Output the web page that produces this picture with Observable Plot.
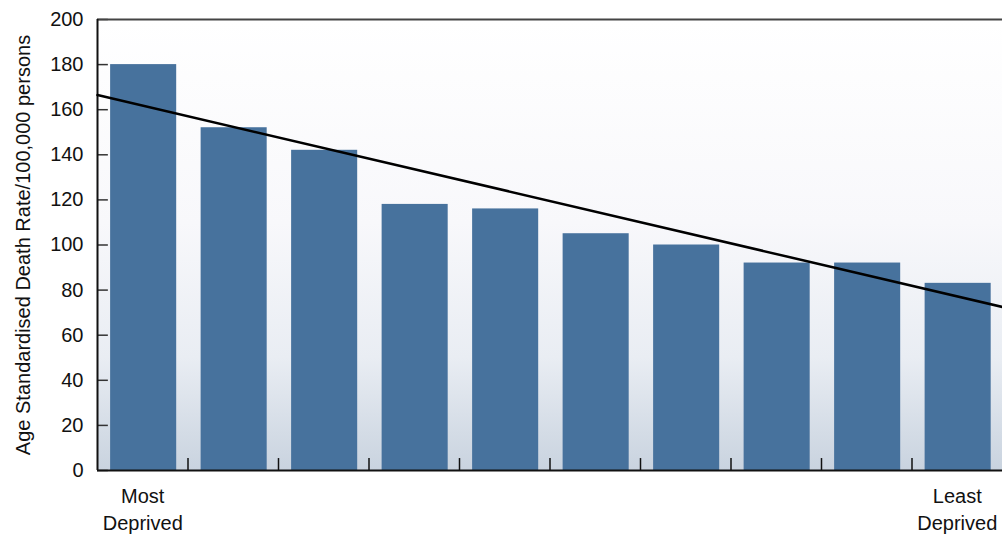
<!DOCTYPE html>
<html>
<head>
<meta charset="utf-8">
<script src="https://cdn.jsdelivr.net/npm/d3@7"></script>
<script src="https://cdn.jsdelivr.net/npm/@observablehq/plot@0.6"></script>
<style>
  html, body { margin: 0; padding: 0; background: #ffffff; }
  #chart svg { display: block; }
</style>
</head>
<body>
<div id="chart"></div>
<script>
// Deprivation deciles, most deprived to least deprived
const categories = ["Most\nDeprived", "", "", "", "", "", "", "", "", "Least\nDeprived"];
const rates = [180, 152, 142, 118, 116, 105, 100, 92, 92, 83];
// Trend line values at left and right edges of the category range
const trendEnds = [166.5, 72.5];
const yTicks = [0, 20, 40, 60, 80, 100, 120, 140, 160, 180, 200];

const n = categories.length;
const bars = rates.map((v, i) => ({i, v, label: categories[i]}));
const trend = [{x: 0, y: trendEnds[0]}, {x: n, y: trendEnds[1]}];
const boundaries = d3.range(1, n);
const pad = 0.135;

const font = "'Liberation Sans', Arial, sans-serif";

const defs = () => {
  const g = d3.create("svg:defs");
  const lg = g.append("linearGradient").attr("id", "bgGrad")
    .attr("x1", 0).attr("y1", 0).attr("x2", 0).attr("y2", 1);
  lg.append("stop").attr("offset", "0%").attr("stop-color", "#ffffff");
  lg.append("stop").attr("offset", "45%").attr("stop-color", "#f8f8fb");
  lg.append("stop").attr("offset", "75%").attr("stop-color", "#e9edf3");
  lg.append("stop").attr("offset", "100%").attr("stop-color", "#c9d3df");
  return g.node();
};

const chart = Plot.plot({
  width: 1002,
  height: 536,
  marginLeft: 97,
  marginRight: 0,
  marginTop: 19,
  marginBottom: 66,
  style: {fontFamily: font, fontSize: "20px", color: "#111", background: "#fff"},
  x: {type: "linear", domain: [0, n], axis: null},
  y: {domain: [0, 200], ticks: yTicks, label: null},
  marks: [
    defs,
    Plot.frame({fill: "url(#bgGrad)", stroke: null}),
    Plot.rectY(bars, {x1: d => d.i + pad + 0.01, x2: d => d.i + 1 - pad + 0.01, y1: 0, y2: "v", fill: "#47729d"}),
    Plot.ruleY(yTicks, {x1: 0, x2: 0.12, stroke: "#333", strokeWidth: 1.5}),
    Plot.ruleX(boundaries, {y1: 0, y2: 5.3, stroke: "#111", strokeWidth: 1.5}),
    Plot.ruleY([200], {stroke: "#444", strokeWidth: 2}),
    Plot.ruleY([0], {stroke: "#111", strokeWidth: 2}),
    Plot.ruleX([0], {stroke: "#111", strokeWidth: 2}),
    Plot.line(trend, {x: "x", y: "y", stroke: "#000", strokeWidth: 2.5}),
    Plot.axisY({ticks: yTicks, tickSize: 0, tickPadding: 14, fontSize: 20,
      label: "Age Standardised Death Rate/100,000 persons", labelAnchor: "center",
      labelOffset: 82, labelArrow: "none"}),
    Plot.text(bars.filter(d => d.label), {x: d => d.i + 0.5, y: 0, text: "label",
      lineAnchor: "top", dy: 13, lineHeight: 1.35, fontSize: 20, fill: "#111"})
  ]
});
chart.querySelectorAll("[aria-label='y-axis label'] text").forEach(t => t.setAttribute("font-size", "20"));
document.getElementById("chart").appendChild(chart);
</script>
</body>
</html>
